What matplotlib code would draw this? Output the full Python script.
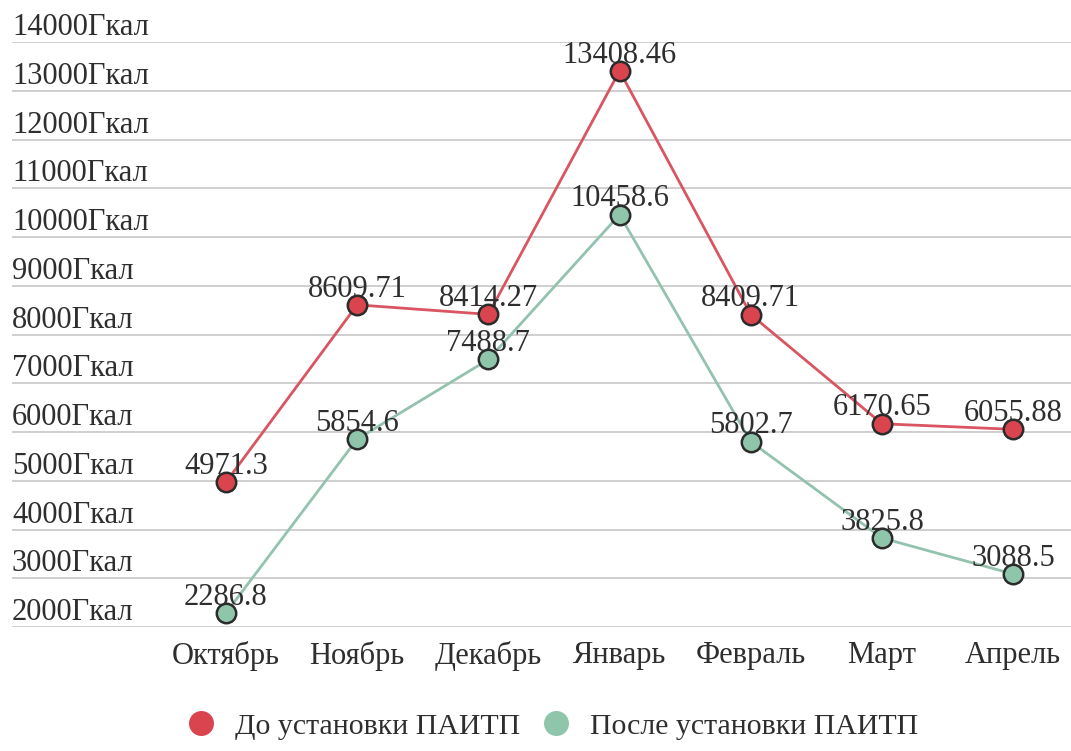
import matplotlib.pyplot as plt
from matplotlib import transforms

meses = ['Октябрь', 'Ноябрь', 'Декабрь', 'Январь', 'Февраль', 'Март', 'Апрель']
antes = [4971.3, 8609.71, 8414.27, 13408.46, 8409.71, 6170.65, 6055.88]
despues = [2286.8, 5854.6, 7488.7, 10458.6, 5802.7, 3825.8, 3088.5]
etiquetas_antes = ['4971.3', '8609.71', '8414.27', '13408.46', '8409.71', '6170.65', '6055.88']
etiquetas_despues = ['2286.8', '5854.6', '7488.7', '10458.6', '5802.7', '3825.8', '3088.5']
niveles = list(range(2000, 14001, 1000))

plt.rcParams['font.family'] = ['Liberation Serif', 'DejaVu Serif']

fig = plt.figure(figsize=(10.71, 7.51), dpi=100)
ax = fig.add_axes([0.0112, 0.165, 0.9888, 0.779])

rojo = '#d9444f'
verde = '#8fc5ab'
texto = '#2e2e2e'

x = list(range(len(meses)))
ax.plot(x, antes, color='#d95562', lw=2.0, marker='o', ms=14,
        mfc=rojo, mec='#2b2b2b', mew=1.8, zorder=3, label='До установки ПАИТП')
ax.plot(x, despues, color='#93c3ae', lw=2.0, marker='o', ms=14,
        mfc=verde, mec='#2b2b2b', mew=1.8, zorder=3, label='После установки ПАИТП')

for xi, v, t in zip(x, antes, etiquetas_antes):
    ax.annotate(t, (xi, v), xytext=(0, 6), textcoords='offset points',
                ha='center', va='baseline', fontsize=22, color=texto, zorder=4)
for xi, v, t in zip(x, despues, etiquetas_despues):
    ax.annotate(t, (xi, v), xytext=(0, 6), textcoords='offset points',
                ha='center', va='baseline', fontsize=22, color=texto, zorder=4)

ax.set_ylim(2000, 14000)
ax.set_xlim(-1.63, 6.44)

# lineas de grilla y etiquetas encima de cada linea
for n in niveles:
    ax.axhline(n, color='#cccccc', lw=1.3, zorder=1)
trans = transforms.blended_transform_factory(ax.transAxes, ax.transData)
for n in niveles:
    ax.annotate(f'{n}Гкал', (0, n), xycoords=trans, xytext=(0, 5),
                textcoords='offset points', ha='left', va='baseline',
                fontsize=22, color=texto)

ax.set_yticks([])
ax.set_xticks(x)
ax.set_xticklabels(meses, fontsize=22, color=texto)
ax.tick_params(axis='x', length=0, pad=10)
for s in ax.spines.values():
    s.set_visible(False)

handles = [plt.Line2D([], [], ls='', marker='o', ms=18, mfc=rojo, mec='none'),
           plt.Line2D([], [], ls='', marker='o', ms=18, mfc=verde, mec='none')]
fig.legend(handles, ['До установки ПАИТП', 'После установки ПАИТП'],
           loc='center', bbox_to_anchor=(0.512, 0.033), ncol=2, frameon=False,
           fontsize=21.5, labelcolor=texto, handlelength=1.5,
           handletextpad=0.42, columnspacing=0.42)

fig.savefig('out.png', dpi=100)
